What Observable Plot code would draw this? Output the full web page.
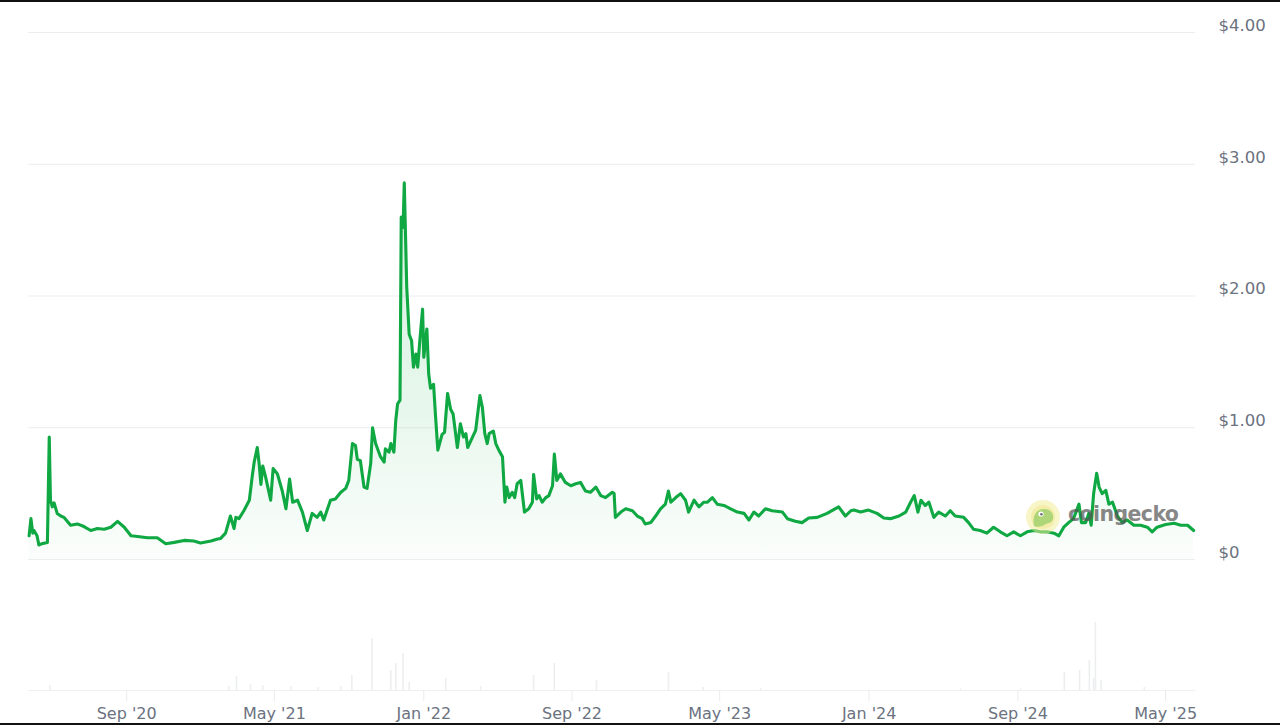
<!DOCTYPE html>
<html>
<head>
<meta charset="utf-8">
<script src="https://cdn.jsdelivr.net/npm/d3@7"></script>
<script src="https://cdn.jsdelivr.net/npm/@observablehq/plot@0.6"></script>
<style>
  html, body { margin: 0; padding: 0; background: #fff; }
  #wrap { position: relative; width: 1280px; height: 725px; overflow: hidden; background: #fff; }
  #price { position: absolute; left: 0; top: 0; }
  #volume { position: absolute; left: 0; top: 580px; }
  .edge { position: absolute; left: 0; width: 1280px; height: 2px; background: #111; }
  #wm { position: absolute; left: 1026px; top: 500px; width: 170px; height: 34px; opacity: 0.7; pointer-events: none; }
  #wm span { position: absolute; left: 42px; top: 2px; font-family: "DejaVu Sans", sans-serif; font-weight: bold; font-size: 20.5px; color: #555; letter-spacing: -0.6px; }
</style>
</head>
<body>
<div id="wrap">
  <div id="price"></div>
  <div id="volume"></div>
  <div id="wm">
    <svg width="40" height="34" style="position:absolute;left:0;top:0">
      <circle cx="17" cy="17" r="17" fill="#f3ee9a" opacity="0.75"/>
      <circle cx="17" cy="17" r="12" fill="#ece27a" opacity="0.8"/>
      <path d="M8 26 C6 16 10 9 18 9 C25 9 28 14 27 19 C26 23 22 23 20 24 C17 26 12 28 8 26 Z" fill="#8cc63f"/>
      <circle cx="15" cy="14" r="2.6" fill="#fff"/>
      <circle cx="15.4" cy="14.2" r="1.3" fill="#333"/>
    </svg>
    <span>coingecko</span>
  </div>
  <div class="edge" style="top:0"></div>
  <div class="edge" style="top:723px"></div>
</div>
<script>
// ---------------- data ----------------
const priceDates = [
"2020-03-25","2020-03-28","2020-03-31","2020-04-02","2020-04-07","2020-04-10","2020-04-15","2020-04-24","2020-04-27","2020-04-29",
"2020-05-02","2020-05-05","2020-05-10","2020-05-16","2020-05-21","2020-06-01","2020-06-12","2020-06-23","2020-07-04","2020-07-15",
"2020-07-26","2020-08-06","2020-08-17","2020-08-28","2020-09-08","2020-09-19","2020-10-05","2020-10-21","2020-11-04","2020-11-18",
"2020-12-04","2020-12-20","2020-12-31","2021-01-17","2021-01-28","2021-02-02","2021-02-10","2021-02-18","2021-02-24","2021-02-27",
"2021-03-04","2021-03-12","2021-03-21","2021-03-26","2021-03-29","2021-04-03","2021-04-06","2021-04-09","2021-04-12","2021-04-17",
"2021-04-25","2021-04-29","2021-05-06","2021-05-14","2021-05-20","2021-05-26","2021-05-31","2021-06-08","2021-06-16","2021-06-24",
"2021-07-02","2021-07-10","2021-07-16","2021-07-21","2021-08-01","2021-08-09","2021-08-18","2021-08-26","2021-08-31","2021-09-06",
"2021-09-11","2021-09-14","2021-09-19","2021-09-25","2021-09-30","2021-10-06","2021-10-09","2021-10-14","2021-10-22","2021-10-28",
"2021-10-30","2021-11-05","2021-11-08","2021-11-13","2021-11-16","2021-11-19","2021-11-23","2021-11-25","2021-11-28","2021-11-30",
"2021-12-04","2021-12-08","2021-12-12","2021-12-15","2021-12-19","2021-12-22","2021-12-26","2021-12-30","2022-01-01","2022-01-06",
"2022-01-09","2022-01-12","2022-01-17","2022-01-20","2022-01-24","2022-01-31","2022-02-04","2022-02-09","2022-02-14","2022-02-18",
"2022-02-25","2022-03-02","2022-03-07","2022-03-11","2022-03-14","2022-03-22","2022-03-27","2022-04-03","2022-04-07","2022-04-11",
"2022-04-15","2022-04-18","2022-04-25","2022-04-29","2022-05-04","2022-05-10","2022-05-14","2022-05-17","2022-05-21","2022-05-26",
"2022-05-30","2022-06-03","2022-06-09","2022-06-15","2022-06-22","2022-06-28","2022-06-30","2022-07-05","2022-07-09","2022-07-14",
"2022-07-20","2022-07-25","2022-07-31","2022-08-03","2022-08-07","2022-08-13","2022-08-21","2022-08-30","2022-09-07","2022-09-15",
"2022-09-23","2022-10-01","2022-10-10","2022-10-18","2022-10-26","2022-11-06","2022-11-09","2022-11-11","2022-11-20","2022-11-28",
"2022-12-09","2022-12-17","2022-12-25","2022-12-30","2023-01-08","2023-01-16","2023-01-24","2023-02-01","2023-02-06","2023-02-10",
"2023-02-18","2023-02-26","2023-03-06","2023-03-11","2023-03-20","2023-03-28","2023-04-05","2023-04-11","2023-04-19","2023-04-27",
"2023-05-08","2023-05-19","2023-05-30","2023-06-10","2023-06-18","2023-06-26","2023-07-04","2023-07-15","2023-07-26","2023-08-12",
"2023-08-20","2023-09-02","2023-09-13","2023-09-24","2023-10-08","2023-10-24","2023-11-12","2023-11-23","2023-12-02","2023-12-07",
"2023-12-18","2023-12-31","2024-01-14","2024-01-25","2024-02-05","2024-02-19","2024-03-01","2024-03-09","2024-03-15","2024-03-21",
"2024-03-26","2024-04-02","2024-04-08","2024-04-16","2024-04-24","2024-05-05","2024-05-13","2024-05-21","2024-06-04","2024-06-12",
"2024-06-20","2024-07-01","2024-07-12","2024-07-23","2024-08-03","2024-08-14","2024-08-25","2024-09-05","2024-09-16","2024-09-27",
"2024-10-08","2024-10-19","2024-10-30","2024-11-07","2024-11-15","2024-11-23","2024-12-01","2024-12-10","2024-12-14","2024-12-21",
"2024-12-26","2024-12-30","2025-01-03","2025-01-08","2025-01-12","2025-01-17","2025-01-23","2025-01-28","2025-02-03","2025-02-11",
"2025-02-19","2025-02-27","2025-03-10","2025-03-21","2025-04-01","2025-04-09","2025-04-17","2025-05-01","2025-05-15","2025-05-26",
"2025-06-06","2025-06-16"
];
const prices = [
0.18,0.31,0.20,0.22,0.18,0.11,0.12,0.13,0.93,0.45,
0.40,0.43,0.35,0.33,0.32,0.26,0.27,0.25,0.22,0.235,
0.23,0.245,0.29,0.245,0.18,0.175,0.165,0.165,0.12,0.13,
0.145,0.14,0.125,0.14,0.155,0.16,0.20,0.33,0.235,0.32,
0.31,0.37,0.45,0.64,0.74,0.85,0.73,0.57,0.71,0.62,
0.45,0.69,0.65,0.52,0.385,0.61,0.435,0.45,0.36,0.22,
0.35,0.32,0.36,0.30,0.45,0.46,0.51,0.54,0.60,0.88,
0.865,0.76,0.75,0.55,0.54,0.73,1.00,0.88,0.78,0.74,
0.84,0.815,0.88,0.815,1.055,1.18,1.21,2.60,2.52,2.86,
2.07,1.71,1.66,1.46,1.56,1.46,1.69,1.90,1.535,1.75,
1.41,1.30,1.33,1.105,0.83,0.95,0.965,1.26,1.14,1.105,
0.85,1.03,0.93,0.955,0.85,0.93,0.98,1.245,1.156,0.955,
0.88,0.955,0.975,0.88,0.83,0.78,0.435,0.55,0.47,0.51,
0.47,0.575,0.60,0.36,0.385,0.435,0.645,0.46,0.485,0.435,
0.47,0.485,0.56,0.80,0.60,0.65,0.585,0.56,0.575,0.585,
0.52,0.51,0.55,0.485,0.47,0.51,0.50,0.32,0.36,0.385,
0.37,0.33,0.31,0.27,0.28,0.33,0.385,0.42,0.52,0.435,
0.47,0.50,0.45,0.36,0.45,0.40,0.435,0.435,0.47,0.42,
0.41,0.385,0.36,0.35,0.30,0.36,0.33,0.385,0.37,0.36,
0.31,0.29,0.28,0.315,0.32,0.35,0.40,0.33,0.37,0.375,
0.36,0.375,0.35,0.315,0.31,0.33,0.36,0.435,0.485,0.36,
0.45,0.41,0.435,0.32,0.36,0.33,0.37,0.33,0.32,0.28,
0.23,0.22,0.20,0.245,0.21,0.18,0.21,0.18,0.21,0.22,
0.21,0.21,0.20,0.18,0.245,0.28,0.31,0.42,0.28,0.28,
0.35,0.26,0.50,0.655,0.55,0.50,0.525,0.42,0.435,0.33,
0.28,0.30,0.26,0.26,0.245,0.21,0.245,0.265,0.275,0.26,
0.26,0.22
];
// trading volume (relative, millions USD)
const volumeDates = [
"2020-04-28","2021-02-15","2021-02-28","2021-03-23","2021-04-12","2021-05-28","2021-07-12","2021-08-18","2021-09-05","2021-10-08",
"2021-11-08","2021-11-16","2021-11-28","2021-12-08","2022-02-06","2022-04-04","2022-06-30","2022-08-03","2022-10-11","2023-02-06",
"2023-04-04","2023-07-07","2024-05-30","2024-09-05","2024-11-16","2024-12-11","2024-12-27","2025-01-03","2025-01-06","2025-01-15",
"2025-03-27"
];
const volumes = [
50,40,140,60,50,40,30,40,150,520,
200,270,370,80,120,40,150,270,100,180,
30,20,15,15,180,200,300,120,680,100,
30
];
const xTickDates = ["2020-09-01","2021-05-01","2022-01-01","2022-09-01","2023-05-01","2024-01-01","2024-09-01","2025-05-01"];
const xTickLabels = ["Sep '20","May '21","Jan '22","Sep '22","May '23","Jan '24","Sep '24","May '25"];
const yTicks = [0, 1, 2, 3, 4];
const xDomain = ["2020-03-24", "2025-06-19"];

// ---------------- build ----------------
const priceData = priceDates.map((d, i) => ({date: new Date(d), price: prices[i]}));
const volData = volumeDates.map((d, i) => ({date: new Date(d), vol: volumes[i]}));
const xTicks = xTickDates.map(d => new Date(d));
const labelByTime = new Map(xTicks.map((d, i) => [+d, xTickLabels[i]]));
const domain = xDomain.map(d => new Date(d));
const fmtY = d => d === 0 ? "$0" : "$" + d.toFixed(2);
const font = "'DejaVu Sans', sans-serif";
const gray = "#6b7280";
const green = "#0fa843";

const priceSvg = Plot.plot({
  width: 1280, height: 580,
  marginTop: 32, marginBottom: 21, marginLeft: 28, marginRight: 85,
  x: {type: "time", domain, axis: null},
  y: {domain: [0, 4], label: null},
  style: {fontFamily: font, fontSize: "16px", color: gray, background: "transparent", overflow: "visible"},
  marks: [
    Plot.gridY(yTicks, {stroke: "#ebedef", strokeOpacity: 1, strokeWidth: 1}),
    Plot.axisY(yTicks, {anchor: "right", label: null, tickSize: 0, tickPadding: 23, dy: -7, tickFormat: fmtY, fill: gray, fontSize: 16.5}),
    Plot.areaY(priceData, {x: "date", y: "price", fill: "url(#priceFill)"}),
    Plot.lineY(priceData, {x: "date", y: "price", stroke: green, strokeWidth: 3.1, strokeLinejoin: "round"})
  ]
});
const ns = "http://www.w3.org/2000/svg";
const defs = document.createElementNS(ns, "defs");
const grad = document.createElementNS(ns, "linearGradient");
grad.setAttribute("id", "priceFill");
grad.setAttribute("x1", "0"); grad.setAttribute("y1", "0");
grad.setAttribute("x2", "0"); grad.setAttribute("y2", "1");
[[0, 0.18], [0.6, 0.1], [1, 0.02]].forEach(([o, op]) => {
  const s = document.createElementNS(ns, "stop");
  s.setAttribute("offset", o);
  s.setAttribute("stop-color", "#16b04a");
  s.setAttribute("stop-opacity", op);
  grad.appendChild(s);
});
defs.appendChild(grad);
priceSvg.insertBefore(defs, priceSvg.firstChild);
document.getElementById("price").appendChild(priceSvg);

const volSvg = Plot.plot({
  width: 1280, height: 145,
  marginTop: 20, marginBottom: 35, marginLeft: 28, marginRight: 85,
  x: {type: "time", domain},
  y: {domain: [0, 900], axis: null},
  style: {fontFamily: font, fontSize: "16px", color: gray, background: "transparent"},
  marks: [
    Plot.ruleY([0], {stroke: "#eef0f2"}),
    Plot.ruleX(volData, {x: "date", y1: 0, y2: "vol", stroke: "#eceef0", strokeWidth: 1.6}),
    Plot.axisX(xTicks, {tickSize: 11, tickPadding: 6, stroke: "#e9ebee", fill: gray, fontSize: 16,
      tickFormat: d => labelByTime.get(+d)})
  ]
});
document.getElementById("volume").appendChild(volSvg);
</script>
</body>
</html>
